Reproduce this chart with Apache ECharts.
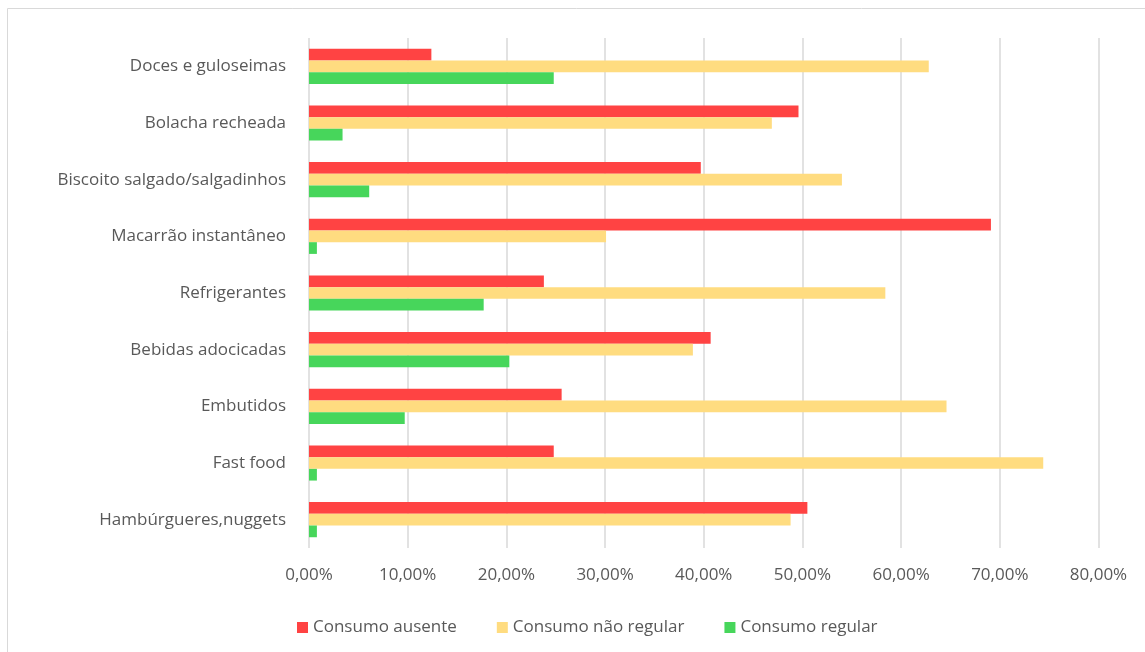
<!DOCTYPE html>
<html>
<head>
<meta charset="utf-8">
<script src="https://cdn.jsdelivr.net/npm/echarts@6/dist/echarts.min.js"></script>
<style>html,body{margin:0;padding:0;background:#fff;}#c{width:1145px;height:652px;}</style>
</head>
<body>
<div id="c"></div>
<script>
const categories = ['Doces e guloseimas', 'Bolacha recheada', 'Biscoito salgado/salgadinhos', 'Macarrão instantâneo', 'Refrigerantes', 'Bebidas adocicadas', 'Embutidos', 'Fast food', 'Hambúrgueres,nuggets'];
const seriesNames = ['Consumo ausente', 'Consumo não regular', 'Consumo regular'];
const ausente = [12.4, 49.6, 39.7, 69.1, 23.8, 40.7, 25.6, 24.8, 50.5];
const naoRegular = [62.8, 46.9, 54.0, 30.1, 58.4, 38.9, 64.6, 74.4, 48.8];
const regular = [24.8, 3.4, 6.1, 0.8, 17.7, 20.3, 9.7, 0.8, 0.8];
const colors = ['#ff4343', '#ffdc80', '#47d65b'];

const FONT = 'Open Sans';
const chart = echarts.init(document.getElementById('c'));
const data = [ausente, naoRegular, regular];
chart.setOption({
  animation: false,
  textStyle: {fontFamily: FONT},
  graphic: [{type: 'rect', shape: {x: 7.5, y: 8.5, width: 1160, height: 680}, style: {fill: null, stroke: '#d9d9d9', lineWidth: 1}}],
  grid: {left: 309, right: 46.5, top: 38, bottom: 104},
  legend: {
    bottom: 11, left: 292, itemWidth: 11, itemHeight: 11, itemGap: 40,
    icon: 'rect',
    textStyle: {color: '#595959', fontSize: 17, fontFamily: FONT},
    data: seriesNames
  },
  xAxis: {
    type: 'value', min: 0, max: 80, interval: 10,
    axisLine: {show: false}, axisTick: {show: false},
    splitLine: {lineStyle: {color: '#d9d9d9', width: 1.5}},
    axisLabel: {color: '#595959', fontSize: 17, margin: 19, fontFamily: FONT,
      formatter: v => v.toFixed(2).replace('.', ',') + '%'}
  },
  yAxis: {
    type: 'category', data: categories, inverse: true,
    axisLine: {show: false}, axisTick: {show: false},
    axisLabel: {color: '#595959', fontSize: 17, margin: 23, fontFamily: FONT}
  },
  series: seriesNames.map((n, i) => ({
    name: n, type: 'bar', data: data[i], barGap: '0%', barCategoryGap: '38%',
    itemStyle: {color: colors[i]}
  }))
});
</script>
</body>
</html>
